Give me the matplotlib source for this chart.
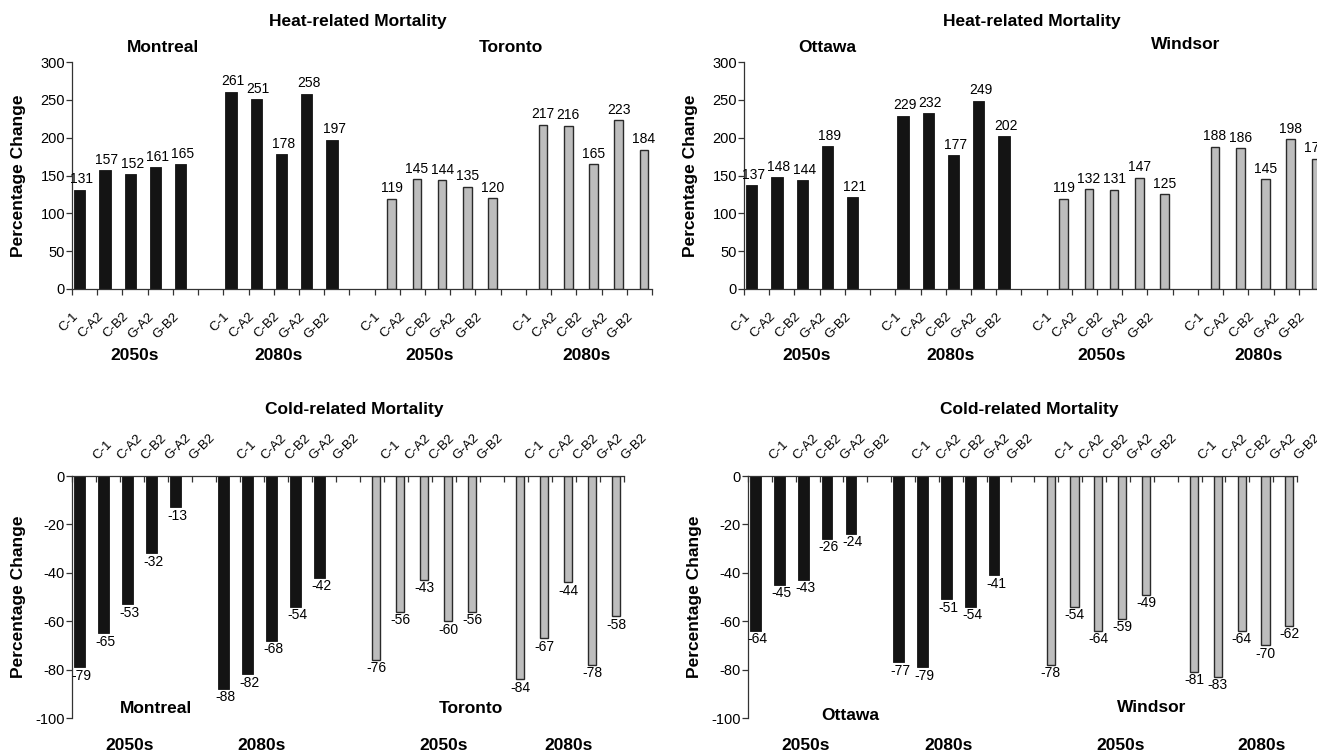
import matplotlib
matplotlib.use("Agg")
import matplotlib.pyplot as plt
import matplotlib.transforms as mtransforms

plt.rcParams['font.family'] = ['Liberation Sans', 'DejaVu Sans']
plt.rcParams['axes.unicode_minus'] = False
NARROW = ['Liberation Sans Narrow', 'Liberation Sans', 'DejaVu Sans']

scenarios = ["C-1", "C-A2", "C-B2", "G-A2", "G-B2"]
periods = ["2050s", "2080s"]

# heat-related mortality, % change
montreal_heat = [[131, 157, 152, 161, 165], [261, 251, 178, 258, 197]]
toronto_heat = [[119, 145, 144, 135, 120], [217, 216, 165, 223, 184]]
ottawa_heat = [[137, 148, 144, 189, 121], [229, 232, 177, 249, 202]]
windsor_heat = [[119, 132, 131, 147, 125], [188, 186, 145, 198, 172]]

# cold-related mortality, % change
montreal_cold = [[-79, -65, -53, -32, -13], [-88, -82, -68, -54, -42]]
toronto_cold = [[-76, -56, -43, -60, -56], [-84, -67, -44, -78, -58]]
ottawa_cold = [[-64, -45, -43, -26, -24], [-77, -79, -51, -54, -41]]
windsor_cold = [[-78, -54, -64, -59, -49], [-81, -83, -64, -70, -62]]

DARK = '#141414'
LIGHT = '#bdbdbd'


def draw_panel(ax, dark_vals, light_vals, cold):
    groups = [dark_vals[0], dark_vals[1], light_vals[0], light_vals[1]]
    for g, vals in enumerate(groups):
        dark = g < 2
        for k, v in enumerate(vals):
            slot = g * 6 + k
            if dark:
                x = slot + 0.31
                ax.bar(x, v, width=0.45, color=DARK, edgecolor=DARK, linewidth=0.6)
                lx = x + 0.08
            else:
                x = slot + 0.68
                ax.bar(x, v, width=0.34, color=LIGHT, edgecolor='#2a2a2a', linewidth=1.0)
                lx = x
            if cold:
                ax.annotate(str(v), xy=(lx, v), xytext=(0, -1), textcoords='offset points',
                            ha='center', va='top', fontsize=10, family=NARROW)
                ax.annotate(scenarios[k], xy=(slot + 1.05, 0), xytext=(0, 11.5),
                            textcoords='offset points', ha='left', va='baseline',
                            rotation=45, rotation_mode='anchor', fontsize=9.5, family=NARROW,
                            annotation_clip=False)
            else:
                ax.annotate(str(v), xy=(lx, v), xytext=(0, 2.5), textcoords='offset points',
                            ha='center', va='bottom', fontsize=10, family=NARROW,
                            annotation_clip=False)
                ax.annotate(scenarios[k], xy=(slot + 0.0, 0), xytext=(0, -15.5),
                            textcoords='offset points', ha='right', va='top',
                            rotation=45, rotation_mode='anchor', fontsize=9.5, family=NARROW,
                            annotation_clip=False)

    ax.set_xlim(0, 23)
    ax.set_xticks(range(24))
    ax.set_xticklabels([])
    ax.spines['right'].set_visible(False)
    for s in ax.spines.values():
        s.set_linewidth(0.9)
        s.set_color('#333333')
    ax.tick_params(axis='y', direction='out', length=4, width=0.9, labelsize=10.5, pad=1,
                   color='#333333')
    if cold:
        ax.set_ylim(-100, 0)
        ax.set_yticks(range(-100, 1, 20))
        ax.spines['bottom'].set_visible(False)
        ax.xaxis.tick_top()
        ax.tick_params(axis='x', direction='in', length=4, width=0.9, color='#333333')
    else:
        ax.set_ylim(0, 300)
        ax.set_yticks(range(0, 301, 50))
        ax.spines['top'].set_visible(False)
        ax.tick_params(axis='x', direction='out', length=4, width=0.9, color='#333333')
    ax.set_ylabel("Percentage Change", fontsize=12.5, fontweight='bold')


def add_text(ax, x, y, s):
    trans = mtransforms.blended_transform_factory(ax.transData, ax.transAxes)
    ax.text(x, y, s, transform=trans, ha='center', va='center', fontsize=12.5,
            fontweight='bold', clip_on=False)


fig = plt.figure(figsize=(13.17, 7.54), dpi=100)
ax_tl = fig.add_axes([72 / 1317, 465 / 754, 580 / 1317, 227 / 754])
ax_tr = fig.add_axes([744 / 1317, 465 / 754, 580 / 1317, 227 / 754])
ax_bl = fig.add_axes([72 / 1317, 36 / 754, 552 / 1317, 242 / 754])
ax_br = fig.add_axes([748 / 1317, 36 / 754, 549 / 1317, 242 / 754])

draw_panel(ax_tl, montreal_heat, toronto_heat, False)
draw_panel(ax_tr, ottawa_heat, windsor_heat, False)
draw_panel(ax_bl, montreal_cold, toronto_cold, True)
draw_panel(ax_br, ottawa_cold, windsor_cold, True)

for ax in (ax_tl, ax_tr):
    ax.yaxis.set_label_coords(-46 / 580, 0.5)
for ax in (ax_bl, ax_br):
    ax.yaxis.set_label_coords(-46 / 552, 0.5)

# top row titles
add_text(ax_tl, 11.35, 1.18, "Heat-related Mortality")
add_text(ax_tr, 11.4, 1.18, "Heat-related Mortality")
add_text(ax_tl, 3.6, 1.066, "Montreal")
add_text(ax_tl, 17.4, 1.066, "Toronto")
add_text(ax_tr, 3.3, 1.066, "Ottawa")
add_text(ax_tr, 17.5, 1.075, "Windsor")
for ax in (ax_tl, ax_tr):
    for x, p in zip([2.5, 8.2, 14.2, 20.4], periods * 2):
        add_text(ax, x, -0.295, p)

# bottom row titles
add_text(ax_bl, 11.75, 1.273, "Cold-related Mortality")
add_text(ax_br, 11.8, 1.273, "Cold-related Mortality")
add_text(ax_bl, 3.5, 0.041, "Montreal")
add_text(ax_bl, 16.6, 0.041, "Toronto")
add_text(ax_br, 4.3, 0.012, "Ottawa")
add_text(ax_br, 16.9, 0.045, "Windsor")
for x, p in zip([2.4, 7.9, 15.5, 20.7], periods * 2):
    add_text(ax_bl, x, -0.112, p)
for x, p in zip([2.4, 8.4, 15.6, 21.5], periods * 2):
    add_text(ax_br, x, -0.112, p)

fig.savefig("out.png", dpi=100)
